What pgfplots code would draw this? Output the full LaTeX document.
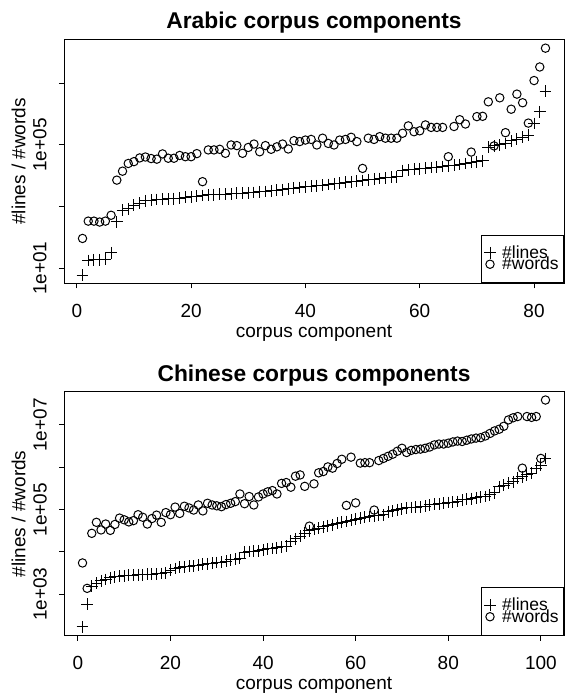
\documentclass[border=0pt]{standalone}
\usepackage{fontspec}
\setmainfont{Liberation Sans}
\usepackage{pgfplots}
\usepackage{pgfplotstable}
\pgfplotsset{compat=1.18}

\pgfplotstableread{
x lines words
1 6 93
2 18 339
3 19 339
4 19 316
5 20 339
6 32 525
7 324 7244
8 776 14125
9 851 25119
10 1122 28840
11 1288 38019
12 1549 40738
13 1622 36308
14 1698 34674
15 1738 51286
16 1778 37154
17 1820 37154
18 1905 45709
19 1995 41687
20 2089 41687
21 2188 52481
22 2291 6457
23 2399 69183
24 2455 69183
25 2512 72444
26 2570 53703
27 2630 100000
28 2692 95499
29 2754 53703
30 2818 83176
31 2884 107152
32 3020 60256
33 3090 95499
34 3236 72444
35 3388 87096
36 3548 107152
37 3802 74131
38 3981 138038
39 4169 128825
40 4365 144544
41 4571 151356
42 4786 100000
43 5012 165959
44 5248 112202
45 5495 100000
46 5754 144544
47 6166 151356
48 6457 177828
49 6761 128825
50 7079 17378
51 7413 165959
52 7762 151356
53 8128 186209
54 8511 165959
55 8913 165959
56 9333 165959
57 14791 239883
58 15488 416869
59 16218 269153
60 16982 288403
61 17783 446684
62 18621 371535
63 19055 371535
64 19953 371535
65 20893 41687
66 21878 398107
67 23442 660693
68 25119 478630
69 26915 58884
70 28840 831764
71 30903 851138
72 85114 2511886
73 93325 93325
74 100000 3388442
75 112202 251189
76 134896 1445440
77 154882 4466836
78 177828 2344229
79 208930 512861
80 501187 12302688
81 1202264 33884416
82 5623413 138038426
}\arabicdata

\pgfplotstableread{
x lines words
1 170 5495
2 589 1380
3 1549 27542
4 1820 50119
5 2089 33113
6 2239 45709
7 2455 32359
8 2570 44668
9 2692 63096
10 2754 57544
11 2818 51286
12 2818 54954
13 2884 75858
14 2884 66069
15 2951 45709
16 2951 61660
17 3020 74131
18 3090 50119
19 3236 85114
20 3715 75858
21 4074 114815
22 4365 81283
23 4467 120226
24 4571 109648
25 4677 97724
26 4898 128825
27 5129 93325
28 5248 141254
29 5370 128825
30 5623 123027
31 5754 117490
32 6026 131826
33 6457 141254
34 6761 154882
35 7079 234423
36 9772 138038
37 10233 204174
38 10471 128825
39 10715 199526
40 11220 234423
41 11749 263027
42 12023 281838
43 12589 234423
44 13183 416869
45 13804 436516
46 17783 338844
47 20417 616595
48 23442 660693
49 27542 354813
50 31623 40738
51 33884 407380
52 36308 741310
53 38905 794328
54 41687 1023293
55 43652 954993
56 47863 1230269
57 50119 1548817
58 52481 125893
59 56234 1737801
60 58884 144544
61 63096 1258925
62 66069 1288250
63 69183 1288250
64 70795 97724
65 74131 1445440
66 75858 1621810
67 89125 1819701
68 93325 2041738
69 100000 2398833
70 104713 2818383
71 109648 2238721
72 112202 2511886
73 114815 2630268
74 117490 2691535
75 120226 2818383
76 128825 3019952
77 134896 3388442
78 138038 3548134
79 141254 3548134
80 147911 3715352
81 151356 3981072
82 154882 4168694
83 169824 4073803
84 177828 4365158
85 181970 4677351
86 190546 4897788
87 199526 5011872
88 204174 5495409
89 223872 6309573
90 251189 7244360
91 346737 7943282
92 380189 9332543
93 416869 13182567
94 457088 14791084
95 549541 15848932
96 602560 954993
97 660693 15848932
98 724436 15135612
99 954993 15848932
100 1122018 1621810
101 1621810 38904514
}\chinesedata

\newcommand{\rfont}{\fontsize{19bp}{22bp}\selectfont}
\newcommand{\lfont}{\fontsize{17.5bp}{20bp}\selectfont}
\newcommand{\tfont}{\fontsize{22.8bp}{26bp}\selectfont\bfseries}

\begin{document}
\begin{tikzpicture}
\begin{axis}[
  scale only axis, width=500bp, height=244.2bp,
  at={(64bp,409.5bp)}, anchor=south west,
  ymode=log,
  axis line style={line width=1bp},
  tick align=outside, tick pos=left, major tick length=5bp,
  every tick/.style={black, line width=1bp},
  yminorticks=false, xminorticks=false,
  ticklabel style={font=\rfont},
  yticklabel style={rotate=90, anchor=base, yshift=12.5bp},
  xticklabel style={anchor=base, yshift=-29bp},
  title style={at={(axis description cs:0.5,1)}, anchor=base, yshift=4.5bp, font=\tfont},
  title={Arabic corpus components},
  xlabel={corpus component},
  ylabel={\#lines / \#words},
  label style={font=\rfont},
  xlabel style={at={(axis description cs:0.5,0)}, anchor=base, yshift=-54bp},
  ylabel style={at={(axis description cs:0,0.5)}, anchor=base, yshift=38.5bp},
  legend cell align=left,
  legend image code/.code={\draw[#1] plot coordinates {(0bp,1.5bp)};},
  legend style={at={(axis description cs:0.8334,0)}, anchor=south west,
                draw=black, line width=1bp, fill=white,
                inner xsep=2.9bp, inner ysep=11.5bp,
                column sep=6.3bp, row sep=0pt,
                font=\lfont,
                nodes={inner sep=0pt, text height=10bp, text depth=1.5bp}},
  xmin=-2.24, xmax=85.24, ymin=3.214, ymax=2.68e8,
  xtick={0,20,40,60,80}, xticklabels={0,20,40,60,80},
  ytick={10,1000,100000,10000000}, yticklabels={1e+01,,1e+05,}]
\addplot[only marks, black, mark=+, mark size=5.9bp, line width=1bp] table[x=x, y=lines] {\arabicdata};
\addlegendentry{\makebox[58.4bp][l]{\#lines}}
\addplot[only marks, black, mark=o, mark size=4.2bp, line width=1bp] table[x=x, y=words] {\arabicdata};
\addlegendentry{\makebox[58.4bp][l]{\#words}}
\end{axis}
\begin{axis}[
  scale only axis, width=500bp, height=244.3bp,
  at={(64bp,57bp)}, anchor=south west,
  ymode=log,
  axis line style={line width=1bp},
  tick align=outside, tick pos=left, major tick length=5bp,
  every tick/.style={black, line width=1bp},
  yminorticks=false, xminorticks=false,
  ticklabel style={font=\rfont},
  yticklabel style={rotate=90, anchor=base, yshift=12.5bp},
  xticklabel style={anchor=base, yshift=-29bp},
  title style={at={(axis description cs:0.5,1)}, anchor=base, yshift=4.5bp, font=\tfont},
  title={Chinese corpus components},
  xlabel={corpus component},
  ylabel={\#lines / \#words},
  label style={font=\rfont},
  xlabel style={at={(axis description cs:0.5,0)}, anchor=base, yshift=-54bp},
  ylabel style={at={(axis description cs:0,0.5)}, anchor=base, yshift=38.5bp},
  legend cell align=left,
  legend image code/.code={\draw[#1] plot coordinates {(0bp,1.5bp)};},
  legend style={at={(axis description cs:0.8334,0)}, anchor=south west,
                draw=black, line width=1bp, fill=white,
                inner xsep=2.9bp, inner ysep=11.5bp,
                column sep=6.3bp, row sep=0pt,
                font=\lfont,
                nodes={inner sep=0pt, text height=10bp, text depth=1.5bp}},
  xmin=-3, xmax=105, ymin=103.3, ymax=6.12e7,
  xtick={0,20,40,60,80,100}, xticklabels={0,20,40,60,80,100},
  ytick={1000,10000,100000,1000000,10000000}, yticklabels={1e+03,,1e+05,,1e+07}]
\addplot[only marks, black, mark=+, mark size=5.9bp, line width=1bp] table[x=x, y=lines] {\chinesedata};
\addlegendentry{\makebox[58.4bp][l]{\#lines}}
\addplot[only marks, black, mark=o, mark size=4.2bp, line width=1bp] table[x=x, y=words] {\chinesedata};
\addlegendentry{\makebox[58.4bp][l]{\#words}}
\end{axis}
\pgfresetboundingbox
\path[use as bounding box] (0bp,0bp) rectangle (565bp,693bp);
\end{tikzpicture}
\end{document}
